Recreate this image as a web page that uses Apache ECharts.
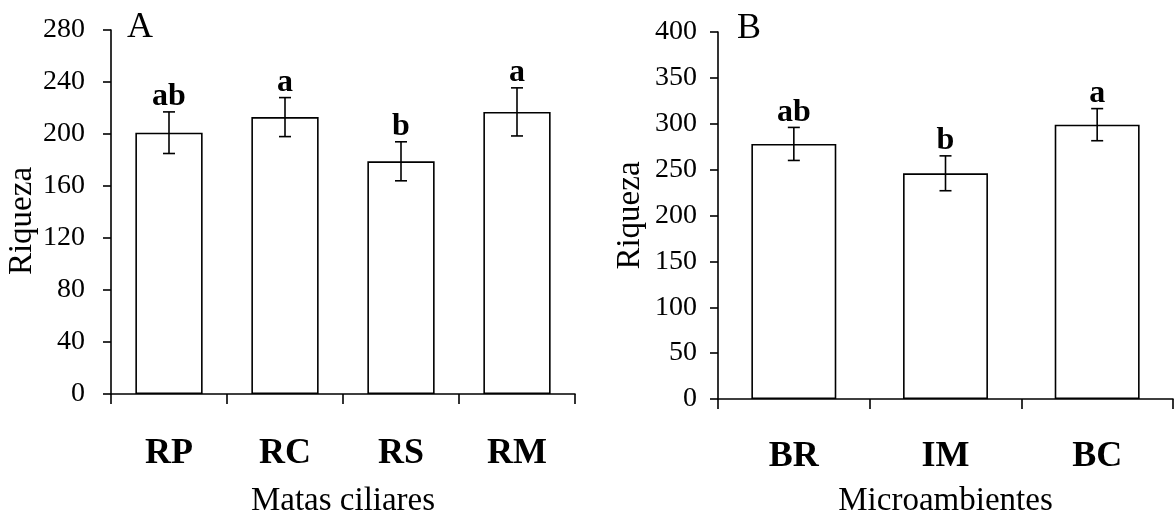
<!DOCTYPE html>
<html>
<head>
<meta charset="utf-8">
<script src="https://cdn.jsdelivr.net/npm/echarts@6/dist/echarts.min.js"></script>
<style>html,body{margin:0;padding:0;background:#fff;}#c{width:1175px;height:513px;}</style>
</head>
<body>
<div id="c"></div>
<script>
var catsA = ['RP', 'RC', 'RS', 'RM'];
var meansA = [201, 213, 179, 217];
var errA = [16, 15, 15, 18.5];
var lettersA = ['ab', 'a', 'b', 'a'];
var ticksA = [0, 40, 80, 120, 160, 200, 240, 280];

var catsB = ['BR', 'IM', 'BC'];
var meansB = [278, 246, 299];
var errB = [18, 19, 17.5];
var lettersB = ['ab', 'b', 'a'];
var ticksB = [0, 50, 100, 150, 200, 250, 300, 350, 400];

var FONT = '"Liberation Serif", "Times New Roman", serif';
var chart = echarts.init(document.getElementById('c'), null, {renderer: 'canvas'});

function errData(means, errs, letters) {
  return means.map(function (m, i) { return [i, m - errs[i], m + errs[i], letters[i]]; });
}
function errRender(params, api) {
  var x = api.value(0);
  var lo = api.coord([x, api.value(1)]);
  var hi = api.coord([x, api.value(2)]);
  var hw = 6;
  var st = {stroke: '#000', lineWidth: 1.6};
  return {
    type: 'group',
    children: [
      {type: 'line', shape: {x1: lo[0], y1: lo[1], x2: hi[0], y2: hi[1]}, style: st},
      {type: 'line', shape: {x1: lo[0] - hw, y1: lo[1], x2: lo[0] + hw, y2: lo[1]}, style: st},
      {type: 'line', shape: {x1: hi[0] - hw, y1: hi[1], x2: hi[0] + hw, y2: hi[1]}, style: st},
      {type: 'text', style: {text: api.value(3), x: hi[0], y: hi[1] - 15, align: 'center', verticalAlign: 'middle',
        font: 'bold 32px ' + FONT, fill: '#000'}}
    ]
  };
}
function xAxisCfg(idx, cats, name, nameGap, labelMargin) {
  return {
    type: 'category', gridIndex: idx, data: cats, boundaryGap: true,
    name: name, nameLocation: 'middle', nameGap: nameGap,
    nameTextStyle: {fontFamily: FONT, fontSize: 33, color: '#000'},
    axisLine: {lineStyle: {color: '#000', width: 1.6}},
    axisTick: {show: true, length: 10, alignWithLabel: false, lineStyle: {color: '#000', width: 1.6}},
    axisLabel: {fontFamily: FONT, fontSize: 36, fontWeight: 'bold', color: '#000', margin: labelMargin, interval: 0}
  };
}
function yAxisCfg(idx, ticks, labelMargin, labelPad, namePad) {
  var step = ticks[1] - ticks[0];
  return {
    type: 'value', gridIndex: idx, min: ticks[0], max: ticks[ticks.length - 1], interval: step,
    name: 'Riqueza', nameLocation: 'middle', nameGap: 71, nameRotate: 90,
    nameTextStyle: {fontFamily: FONT, fontSize: 33, color: '#000', padding: [0, namePad, 0, 0]},
    axisLine: {show: true, lineStyle: {color: '#000', width: 1.6}},
    axisTick: {show: true, length: 8, lineStyle: {color: '#000', width: 1.6}},
    axisLabel: {fontFamily: FONT, fontSize: 28, color: '#000', margin: labelMargin, padding: [labelPad, 0, 0, 0]},
    splitLine: {show: false}
  };
}
var barStyle = {color: '#fff', borderColor: '#000', borderWidth: 1.6};

chart.setOption({
  animation: false,
  backgroundColor: '#fff',
  grid: [
    {left: 111, right: 600, top: 30, bottom: 119, containLabel: false, outerBoundsMode: 'none'},
    {left: 718, right: 2, top: 32, bottom: 114, containLabel: false, outerBoundsMode: 'none'}
  ],
  xAxis: [xAxisCfg(0, catsA, 'Matas ciliares', 91, 42), xAxisCfg(1, catsB, 'Microambientes', 86, 40)],
  yAxis: [yAxisCfg(0, ticksA, 26, 13, 18), yAxisCfg(1, ticksB, 21, 7, 0)],
  graphic: [
    {type: 'text', left: 127, top: 10, style: {text: 'A', font: '36px ' + FONT, fill: '#000'}},
    {type: 'text', left: 737, top: 11, style: {text: 'B', font: '36px ' + FONT, fill: '#000'}}
  ],
  series: [
    {type: 'bar', xAxisIndex: 0, yAxisIndex: 0, data: meansA, barWidth: '58%', itemStyle: barStyle},
    {type: 'custom', xAxisIndex: 0, yAxisIndex: 0, data: errData(meansA, errA, lettersA), renderItem: errRender, z: 5},
    {type: 'bar', xAxisIndex: 1, yAxisIndex: 1, data: meansB, barWidth: '56%', itemStyle: barStyle},
    {type: 'custom', xAxisIndex: 1, yAxisIndex: 1, data: errData(meansB, errB, lettersB), renderItem: errRender, z: 5}
  ]
});
</script>
</body>
</html>
